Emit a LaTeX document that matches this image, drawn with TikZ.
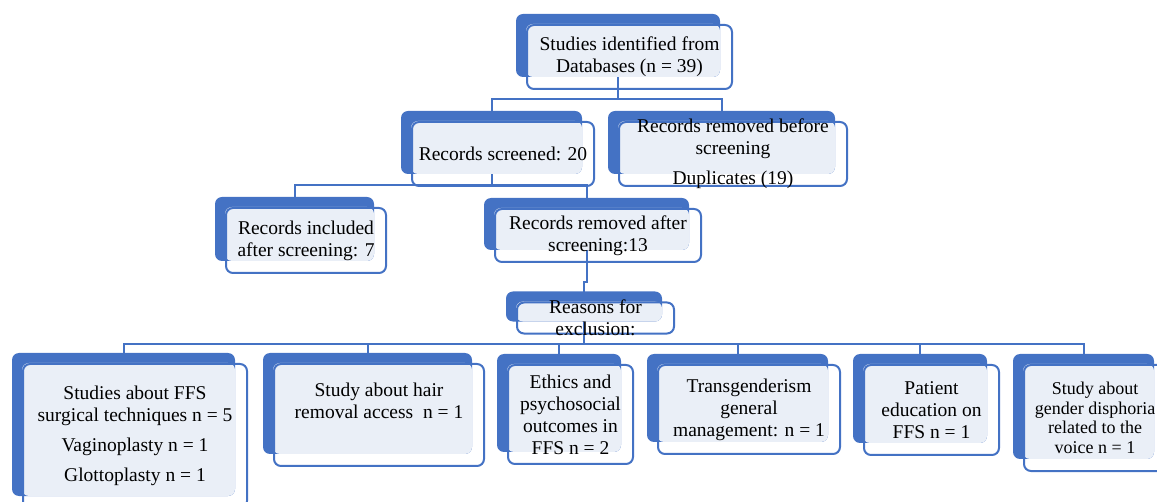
\documentclass[tikz,border=0pt]{standalone}
\usepackage{fontspec}
\setmainfont{Liberation Serif}
\usetikzlibrary{backgrounds}

\definecolor{cardblue}{RGB}{68,114,196}
\definecolor{cardfill}{RGB}{234,239,247}

\tikzset{
    card/.style={draw=cardblue, line width=2pt, rounded corners=7pt, align=center, inner sep=2pt, font=\fontsize{19.5}{22}\selectfont},
    link/.style={draw=cardblue, line width=2pt},
}

\begin{document}
\begin{tikzpicture}[x=1pt, y=-1pt]
    \useasboundingbox (0,0) rectangle (1157,502);

    % Draw upper levels
    \node (ident) at (629.5,57) [card, minimum width=205, minimum height=64] {Studies identified from\\Databases (n = 39)};
    \node (screen) at (503,154) [card, minimum width=182, minimum height=64] {Records screened: 20};
    \node (before) at (733,154) [card, minimum width=228, minimum height=64, inner ysep=-3pt] {Records removed before\\screening\\[8pt]Duplicates (19)};
    \node (incl) at (306,240.5) [card, minimum width=160, minimum height=65] {Records included\\after screening: 7};
    \node (after) at (598,235.5) [card, minimum width=206, minimum height=53] {Records removed after\\screening:13};
    \node (reasons) at (595.5,318) [card, minimum width=157, minimum height=30, inner ysep=-2.5pt] {Reasons for\\exclusion:};

    % Draw reasons
    \node (ffs) at (135,436) [card, minimum width=224, minimum height=144] {Studies about FFS\\surgical techniques n = 5\\[8pt]Vaginoplasty n = 1\\[8pt]Glottoplasty n = 1};
    \node (hair) at (379,415) [card, minimum width=210, minimum height=102] {Study about hair\\removal access~ n = 1\\[7.5pt]~};
    \node (ethics) at (570.5,414.5) [card, minimum width=125, minimum height=99] {Ethics and\\psychosocial\\outcomes in\\FFS n = 2};
    \node (trans) at (749,409.5) [card, minimum width=182, minimum height=89] {Transgenderism\\general\\management: n = 1};
    \node (patient) at (931.5,410) [card, minimum width=135, minimum height=90] {Patient\\education on\\FFS n = 1};
    \node (gender) at (1095,418) [card, minimum width=142, minimum height=106, font=\fontsize{18}{19.5}\selectfont] {Study about\\gender disphoria\\related to the\\voice n = 1};

    \begin{scope}[on background layer]
        % Draw connectors
        \draw[link] ([shift={(-11.5pt,13pt)}]ident.south) -- ++(0,22.5) -| ([xshift=-11.5pt]screen.north);
        \draw[link] ([shift={(-11.5pt,13pt)}]ident.south) -- ++(0,22.5) -| ([xshift=-11.5pt]before.north);
        \draw[link] ([shift={(-11.5pt,13pt)}]screen.south) -- ++(0,11) -| ([xshift=-11.5pt]incl.north);
        \draw[link] ([shift={(-11.5pt,13pt)}]screen.south) -- ++(0,11) -| ([xshift=-11.5pt]after.north);
        \draw[link] ([shift={(-11.5pt,13pt)}]after.south) -- ++(0,32) -| ([xshift=-11.5pt]reasons.north);
        \foreach \c in {ffs,hair,ethics,trans,patient,gender}
            \draw[link] ([shift={(-11.5pt,13pt)}]reasons.south) -- ++(0,22) -| ([xshift=-11.5pt]\c.north);

        % Draw blue backs and light faces
        \foreach \n in {ident,screen,before,incl,after,reasons,ffs,hair,ethics,trans,patient,gender} {
            \fill[cardblue, rounded corners=7pt] ([shift={(-10pt,10pt)}]\n.north west) rectangle ([shift={(-13pt,13pt)}]\n.south east);
            \fill[cardfill, rounded corners=7pt] (\n.north west) rectangle ([shift={(-13pt,13pt)}]\n.south east);
        }
    \end{scope}
\end{tikzpicture}
\end{document}
